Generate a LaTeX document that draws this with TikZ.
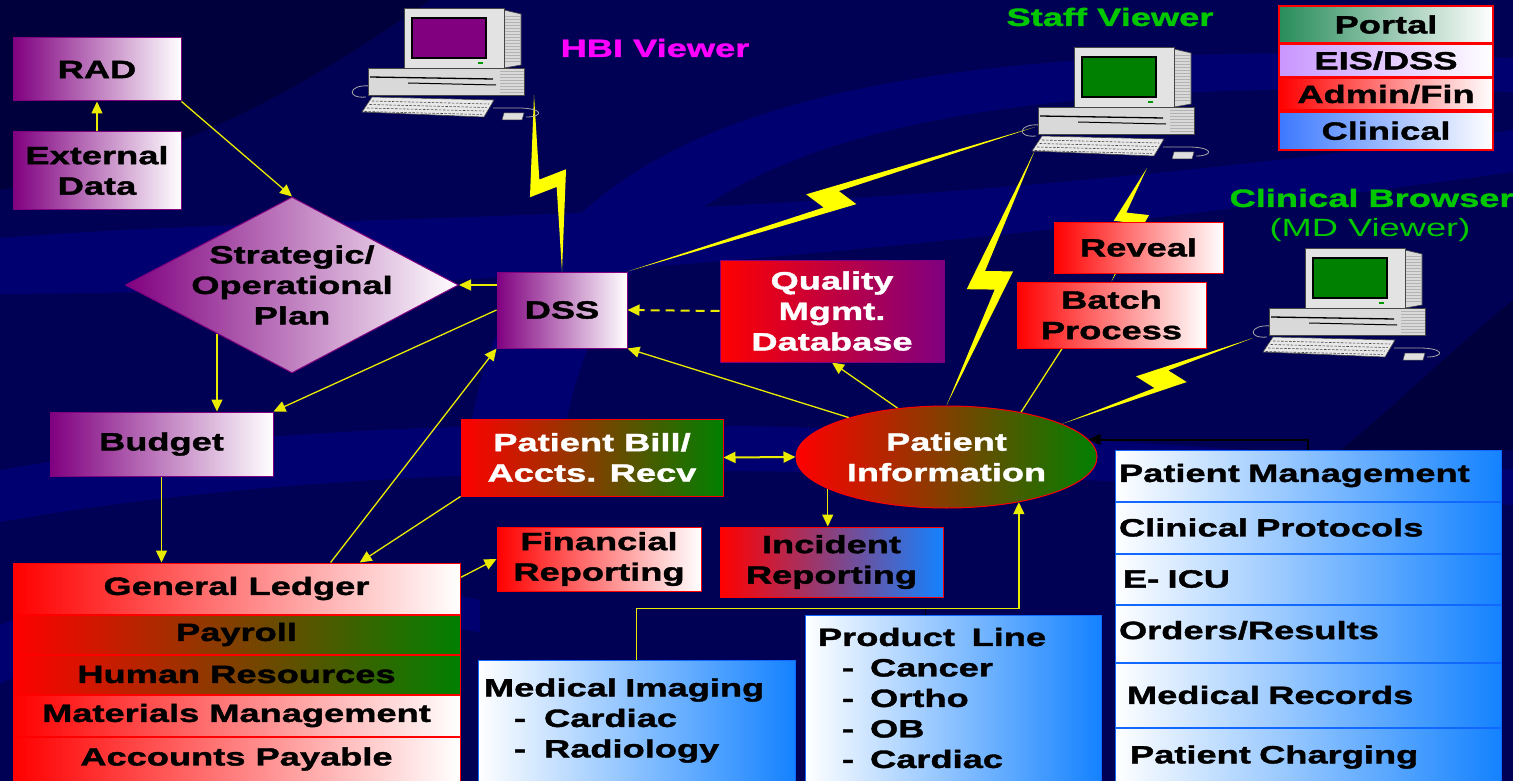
\documentclass[tikz,border=0pt]{standalone}
\usepackage{fontspec}
\setmainfont{Liberation Sans}[FakeStretch=1.45, BoldFeatures={FakeBold=1.5}]
\usetikzlibrary{
  arrows.meta,
  calc,
  positioning,
  shapes.geometric
}

\definecolor{plum}{RGB}{128,0,128}
\definecolor{leaf}{RGB}{0,128,0}
\definecolor{sky}{RGB}{20,130,255}
\definecolor{navy}{RGB}{0,0,84}
\definecolor{swoosh}{RGB}{0,0,112}
\definecolor{deepnavy}{RGB}{0,0,60}
\definecolor{zap}{RGB}{255,255,0}
\definecolor{wire}{RGB}{235,235,0}
\definecolor{seagreen}{RGB}{40,140,90}
\definecolor{lilac}{RGB}{200,150,255}
\definecolor{legendblue}{RGB}{60,120,255}
\definecolor{viewergreen}{RGB}{0,200,0}
\definecolor{hbipink}{RGB}{255,0,255}

\pgfdeclarelayer{bg}
\pgfdeclarelayer{wires}
\pgfsetlayers{bg,wires,main}

\tikzset{
  pics/computer/.style={code={
    % cables
    \draw[gray!70, line width=0.8pt] (2,18) .. controls (-20,16) and (-22,31) .. (-2,29);
    \draw[gray!70, line width=0.8pt] (125,40) -- (150,40) .. controls (176,40) and (176,49) .. (158,49);
    % base unit
    \filldraw[fill=gray!30, draw=gray!55!black, line width=0.6pt] (0,0) rectangle (156,27);
    \foreach \k in {3,6,...,24} \draw[gray!60, line width=0.4pt] (132,\k) -- (156,\k);
    \draw[line width=1.3pt] (2,9) -- (125,11);
    \draw[line width=1pt] (40,15) -- (128,17);
    % monitor
    \filldraw[fill=gray!30, draw=gray!55!black, line width=0.6pt] (136,-58) -- (153,-54) -- (153,-3) -- (136,0) -- cycle;
    \foreach \k in {-52,-49,...,-6} \draw[gray!60, line width=0.4pt] (137,\k) -- (152,\k);
    \filldraw[fill=gray!22, draw=gray!55!black, line width=0.6pt] (36,-60) rectangle (136,0);
    \filldraw[fill=#1, draw=black, line width=1.3pt] (44,-50) rectangle (118,-10);
    \fill[green!60!black] (110,-6) rectangle (115,-4);
    % keyboard and mouse
    \filldraw[fill=gray!18, draw=gray!55!black, line width=0.6pt] (4,29) -- (126,32) -- (116,49) -- (-6,44) -- cycle;
    \foreach \r in {0,1,2,3}
      \draw[gray!55!black, line width=0.6pt, dash pattern=on 2.5pt off 1.5pt] ({4-2.5*\r},{33+3.5*\r}) -- ({121-2.5*\r},{36+3.5*\r});
    \filldraw[fill=gray!25, draw=gray!55!black, line width=0.5pt] (136,45) -- (156,45) -- (154,52) -- (134,52) -- cycle;
    % connection points
    \coordinate (-east) at (166,27);
    \coordinate (-west) at (-3,20);
    \coordinate (-sw) at (-3,43);
    \coordinate (-south) at (109,61);
    \coordinate (-cable) at (-16,30);
  }}
}

\begin{document}
\begin{tikzpicture}[
  x=1pt, y=-1pt,
  font=\bfseries\fontsize{25}{30.5}\selectfont,
  box/.style={rectangle, draw, line width=1pt, inner sep=0pt, align=center},
  plumbox/.style={box, draw=plum, left color=plum, right color=white},
  redbox/.style={box, draw=red, left color=red, right color=white},
  greenbox/.style={box, draw=red, left color=red, right color=leaf},
  clinbox/.style={box, draw=sky!80!blue, left color=white, right color=sky, align=left},
  legend/.style={box, draw=red, line width=1.6pt, right color=white, minimum width=214pt},
  flow/.style={draw=wire, line width=1.3pt, -{Triangle[length=12pt, width=11pt]}},
  bolt/.style n args={3}{fill=zap, draw=none, to path={
    let \p1=(\tikztostart), \p2=(\tikztotarget), \p3=($(\p2)-(\p1)$),
        \p4=($(\p1)!1!90:(\p2)$), \p5=($(\p4)-(\p1)$), \n1={veclen(\x3,\y3)}
    in -- ($(\p1)!#1!(\p2) + {-0.45*#2/\n1}*(\p3) + {-0.4*#3/\n1}*(\p5)$)
    -- ($(\p1)!#1!(\p2) + {-#2/\n1}*(\p3) + {#3/\n1}*(\p5)$)
    -- (\p2)
    -- ($(\p1)!#1!(\p2) + {0.45*#2/\n1}*(\p3) + {0.4*#3/\n1}*(\p5)$)
    -- ($(\p1)!#1!(\p2) + {#2/\n1}*(\p3) + {-#3/\n1}*(\p5)$)
    -- cycle}},
]
\useasboundingbox (0,0) rectangle (1513,781);

% Background
\begin{pgfonlayer}{bg}
\fill[navy] (0,0) rectangle (1513,781);
\fill[deepnavy] (0,0) -- (430,0) .. controls (300,90) and (180,160) .. (0,190) -- cycle;
\fill[swoosh] (0,238) .. controls (350,210) and (800,230) .. (1513,130) -- (1513,172) .. controls (800,270) and (350,292) .. (0,294) -- cycle;
\fill[swoosh] (470,430) .. controls (520,130) and (800,30) .. (1513,58) -- (1513,92) .. controls (850,70) and (610,170) .. (565,430) -- cycle;
\fill[swoosh] (0,470) .. controls (400,400) and (900,420) .. (1513,470) -- (1513,505) .. controls (900,462) and (400,452) .. (0,522) -- cycle;
\fill[swoosh] (0,625) .. controls (150,560) and (300,560) .. (480,600) -- (480,632) .. controls (300,602) and (150,612) .. (0,684) -- cycle;
\fill[deepnavy] (1513,300) .. controls (1440,360) and (1380,420) .. (1340,450) -- (1513,450) -- cycle;
\end{pgfonlayer}

% Viewers
\pic (hbi) at (368,68) {computer=plum};
\pic (staff) at (1038,107) {computer=leaf};
\pic (clin) at (1269,308) {computer=leaf};
\node[text=hbipink] (hbi-label) at (655,48) {HBI Viewer};
\node[text=viewergreen] (staff-label) at (1110,17) {Staff Viewer};
\node[text=viewergreen, anchor=west] (clin-label) at (1226,198) {Clinical Browser};
\node[text=viewergreen, font=\fontsize{25}{30.5}\selectfont] (md-label) at (1370,230) {(MD Viewer)};

% Legend
\node[legend, left color=seagreen, minimum height=37pt] (portal) at (1386,24.5) {Portal};
\node[legend, left color=lilac, minimum height=32pt, below=0pt of portal] (eis) {EIS/DSS};
\node[legend, left color=red, minimum height=32pt, below=0pt of eis] (admin) {Admin/Fin};
\node[legend, left color=legendblue, minimum height=38pt, below=0pt of admin] (clinical) {Clinical};

% Planning side
\node[plumbox, minimum width=168pt, minimum height=63pt] (rad) at (97,69.5) {RAD};
\node[plumbox, minimum width=168pt, minimum height=77pt] (ext) at (97,170.5) {External\\Data};
\node[plumbox, diamond, minimum width=333pt, minimum height=176pt] (plan) at (292,285) {};
\node[align=center] (plan-text) at (plan) {Strategic/\\Operational\\Plan};
\node[plumbox, minimum width=130pt, minimum height=76pt] (dss) at (562,310) {DSS};
\node[box, draw=plum, left color=red, right color=plum, text=white, minimum width=224pt, minimum height=102pt] (qmd) at (832,311) {Quality\\Mgmt.\\Database};
\node[plumbox, minimum width=223pt, minimum height=64pt] (budget) at (161.5,444) {Budget};

% Financial systems
\node[redbox, minimum width=447pt, minimum height=51pt] (gl) at (236.5,588.5) {General Ledger};
\node[greenbox, minimum width=447pt, minimum height=39pt, below=0pt of gl] (payroll) {Payroll};
\node[greenbox, minimum width=447pt, minimum height=39pt, below=0pt of payroll] (hr) {Human Resources};
\node[redbox, minimum width=447pt, minimum height=41pt, below=0pt of hr] (mat) {Materials Management};
\node[redbox, minimum width=447pt, minimum height=44pt, below=0pt of mat] (ap) {Accounts Payable};
\node[greenbox, text=white, minimum width=262pt, minimum height=77pt] (bill) at (592,457.5) {Patient Bill/\\Accts. Recv};
\node[redbox, minimum width=204pt, minimum height=64pt] (fin) at (599,559) {Financial\\Reporting};
\node[box, draw=red, left color=red, right color=sky, minimum width=223pt, minimum height=70pt] (inc) at (831.5,562) {Incident\\Reporting};

% Patient information hub
\node[ellipse, draw=red, line width=1pt, inner sep=0pt, left color=red, right color=leaf, text=white, align=center, minimum width=301pt, minimum height=102pt] (info) at (946.5,457) {Patient\\Information};
\node[redbox, minimum width=169pt, minimum height=51pt] (reveal) at (1138.5,247.5) {Reveal};
\node[redbox, minimum width=189pt, minimum height=66pt] (batch) at (1111.5,315) {Batch\\Process};

% Clinical systems
\node[clinbox, minimum width=317pt, minimum height=121pt, text width=305pt] (img) at (636.5,720.5)
  {Medical Imaging\\\hspace*{30pt}-\hspace*{18pt}Cardiac\\\hspace*{30pt}-\hspace*{18pt}Radiology};
\node[clinbox, minimum width=296pt, minimum height=166pt, text width=270pt] (prod) at (953,698)
  {Product\ \ Line\\\hspace*{24pt}-\hspace*{16pt}Cancer\\\hspace*{24pt}-\hspace*{16pt}Ortho\\\hspace*{24pt}-\hspace*{16pt}OB\\\hspace*{24pt}-\hspace*{16pt}Cardiac};
\node[clinbox, minimum width=386pt, minimum height=51pt, text width=378pt] (pm) at (1308,475.5) {Patient Management};
\node[clinbox, minimum width=386pt, minimum height=51pt, text width=378pt, below=0pt of pm] (cp) {Clinical Protocols};
\node[clinbox, minimum width=386pt, minimum height=50pt, text width=378pt, below=0pt of cp] (eicu) {\hspace*{4pt}E- ICU};
\node[clinbox, minimum width=386pt, minimum height=57pt, text width=378pt, below=0pt of eicu] (orders) {\raisebox{7pt}{Orders/Results}};
\node[clinbox, minimum width=386pt, minimum height=64pt, text width=378pt, below=0pt of orders] (mr) {\hspace*{8pt}Medical Records};
\node[clinbox, minimum width=386pt, minimum height=58pt, text width=378pt, below=0pt of mr] (pc) {\hspace*{11pt}Patient Charging};

% Connectors
\begin{pgfonlayer}{wires}
\draw[flow] (ext) -- (rad);
\draw[flow] (rad.south east) -- (plan.north);
\draw[flow] (dss.west |- plan.east) -- (plan.east);
\draw[flow, line width=2pt, dash pattern=on 9pt off 6pt] (qmd.west) -- (dss.east);
\draw[flow] (plan.213) -- (plan.213 |- budget.north);
\draw[flow] (dss.west) -- (budget.north east);
\draw[flow] (budget.south) -- (budget.south |- gl.north);
\draw[flow] ($(gl.north west)!0.71!(gl.north east)$) -- (dss.south west);
\draw[flow] (bill.south west) -- ($(gl.north west)!0.775!(gl.north east)$);
\draw[flow] ($(gl.east)+(0,-11)$) -- (fin.west);
\draw[flow, line width=2pt, {Triangle[length=12pt, width=11pt]}-{Triangle[length=12pt, width=11pt]}] (bill.east) -- (info.west);
\draw[flow] (info.195) -- (info.195 |- inc.north);
\draw[flow] (info.158) -- (dss.south east);
\draw[flow] (info.135) -- (qmd.south);
\draw[draw=wire, line width=1.3pt] ($(batch.south west)!0.24!(batch.south east)$) -- (info.31);
\draw[flow, line width=1.6pt] (img.north) -- ++(0,-51) -| (info.-32);
\draw[black, line width=1pt] ($(prod.north)+(-28,0)$) -- ++(0,-6);
\draw[black, line width=2pt, -{Triangle[length=12pt, width=11pt]}] (pm.north) |- (info.7);

% Links to the viewers
\path[bolt={0.5}{11}{20}] (hbi-east) to (dss.north);
\path[bolt={0.5}{22}{13}] (dss.north east) to (staff-west);
\path[bolt={0.49}{16}{19}] (info.north) to (staff-sw);
\path[bolt={0.56}{8}{16}] (batch.north) to (staff-south);
\path[bolt={0.52}{22}{13}] (info.16) to (clin-cable);
\end{pgfonlayer}
\end{tikzpicture}
\end{document}
